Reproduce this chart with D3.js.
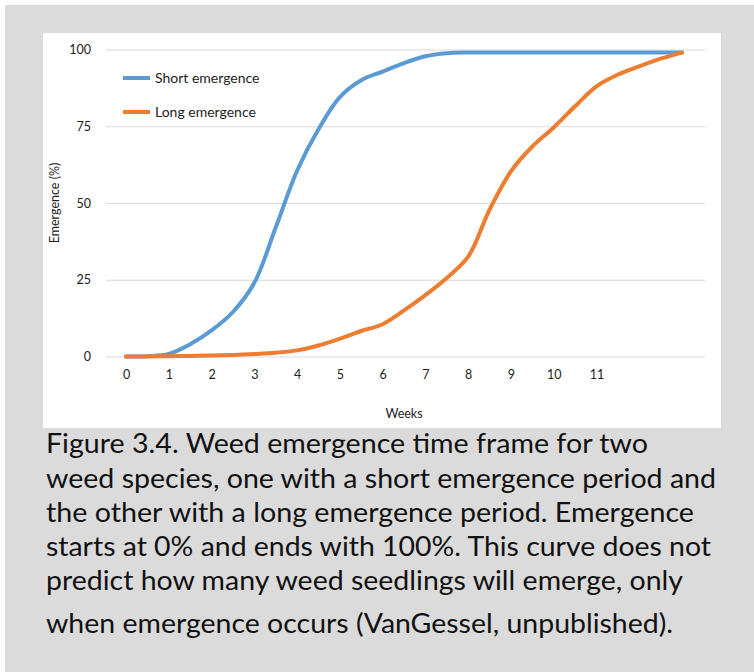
<!DOCTYPE html>
<html>
<head>
<meta charset="utf-8">
<script src="https://cdn.jsdelivr.net/npm/d3@7"></script>
<style>
  body { margin: 0; background: #ffffff; }
  svg { display: block; }
  .tick text { font-family: Lato, "Noto Sans", sans-serif; }
</style>
</head>
<body>
<script>
// Chart data (weeks vs cumulative emergence %)
var weeks = [0, 0.5, 1, 1.5, 2, 2.5, 3, 3.5, 4, 4.5, 5, 5.5, 6, 6.5, 7, 7.5, 8, 8.5, 9, 9.5, 10, 10.5, 11, 11.5, 12, 12.5, 13];
var shortEmergence = [0, 0.1, 0.8, 4, 8.5, 14.5, 24, 42, 60.5, 74, 84.5, 90, 92.8, 95.6, 97.8, 98.8, 99, 99, 99, 99, 99, 99, 99, 99, 99, 99, 99];
var longEmergence = [0, 0, 0.1, 0.2, 0.3, 0.5, 0.8, 1.2, 2, 3.6, 5.8, 8.3, 10.5, 15, 20, 25.6, 32.5, 47.8, 60.3, 68.4, 74.6, 81.5, 88, 91.8, 94.5, 97, 99];
var seriesNames = ["Short emergence", "Long emergence"];
var seriesColors = ["#5b9bd5", "#ed7d31"];
var xTicks = [0, 1, 2, 3, 4, 5, 6, 7, 8, 9, 10, 11];
var yTicks = [0, 25, 50, 75, 100];
var captionLines = [
  "Figure 3.4. Weed emergence time frame for two",
  "weed species, one with a short emergence period and",
  "the other with a long emergence period. Emergence",
  "starts at 0% and ends with 100%. This curve does not",
  "predict how many weed seedlings will emerge, only",
  "when emergence occurs (VanGessel, unpublished)."
];

var width = 754;
var height = 672;

var svg = d3.select("body")
            .append("svg")
            .attr("width", width)
            .attr("height", height);

// gray page background with the thin white strip on top / left
svg.append("rect").attr("width", width).attr("height", height).attr("fill", "#ffffff");
svg.append("rect").attr("x", 5).attr("y", 5).attr("width", width - 5).attr("height", height - 5).attr("fill", "#dbdbdb");

// white chart panel
svg.append("rect").attr("x", 43).attr("y", 33).attr("width", 678).attr("height", 395).attr("fill", "#ffffff");

var x = d3.scaleLinear().domain([0, 13]).range([126, 682]);
var y = d3.scaleLinear().domain([0, 100]).range([356.5, 49.5]);

// horizontal gridlines + y labels
var yAxis = svg.append("g")
   .attr("transform", "translate(106,0)")
   .call(d3.axisLeft(y).tickValues(yTicks).tickSize(-599).tickPadding(15));
yAxis.select(".domain").remove();
yAxis.selectAll(".tick line").attr("stroke", "#d9d9d9").attr("stroke-width", 1);
yAxis.selectAll(".tick text").attr("font-size", 12.5).attr("fill", "#222").attr("x", -15);

// x labels, no axis line
var xAxis = svg.append("g")
   .attr("transform", "translate(0," + y(0) + ")")
   .call(d3.axisBottom(x).tickValues(xTicks).tickSize(0).tickPadding(14));
xAxis.select(".domain").remove();
xAxis.selectAll(".tick text").attr("font-size", 12.5).attr("fill", "#222");

// axis titles
svg.append("text")
   .attr("x", 404).attr("y", 418)
   .attr("text-anchor", "middle")
   .style("font-family", "Lato, sans-serif").style("font-size", "12.5px").attr("fill", "#222")
   .text("Weeks");
svg.append("text")
   .attr("transform", "translate(59,203) rotate(-90)")
   .attr("text-anchor", "middle")
   .style("font-family", "Lato, sans-serif").style("font-size", "12.5px").attr("fill", "#222")
   .text("Emergence (%)");

// lines (smoothed like the original spreadsheet chart)
var line = d3.line()
             .x(function(d) { return x(d[0]); })
             .y(function(d) { return y(d[1]); })
             .curve(d3.curveCatmullRom.alpha(0.5));

[shortEmergence, longEmergence].forEach(function(vals, i) {
  svg.append("path")
     .datum(weeks.map(function(w, j) { return [w, vals[j]]; }))
     .attr("d", line)
     .attr("fill", "none")
     .attr("stroke", seriesColors[i])
     .attr("stroke-width", 4)
     .attr("stroke-linecap", "round");
});

// legend
var legend = svg.append("g");
seriesNames.forEach(function(name, i) {
  var ly = 78 + i * 34;
  legend.append("line")
        .attr("x1", 123).attr("x2", 150).attr("y1", ly).attr("y2", ly)
        .attr("stroke", seriesColors[i]).attr("stroke-width", 4);
  legend.append("text")
        .attr("x", 155).attr("y", ly + 5)
        .style("font-family", "Lato, sans-serif").style("font-size", "14px").attr("fill", "#222")
        .text(name);
});

// caption below the chart
var captionEnds = [648, 716, 694, 711, 683, 673];
var captionBase = [453, 488, 522, 556, 590, 633];
svg.append("g").selectAll("text")
   .data(captionLines)
   .enter()
   .append("text")
   .attr("x", 46)
   .attr("y", function(d, i) { return captionBase[i]; })
   .attr("textLength", function(d, i) { return captionEnds[i] - 46; })
   .attr("lengthAdjust", "spacingAndGlyphs")
   .style("font-family", "Lato, sans-serif")
   .style("font-size", "26px")
   .attr("fill", "#111")
   .text(function(d) { return d; });
</script>
</body>
</html>
